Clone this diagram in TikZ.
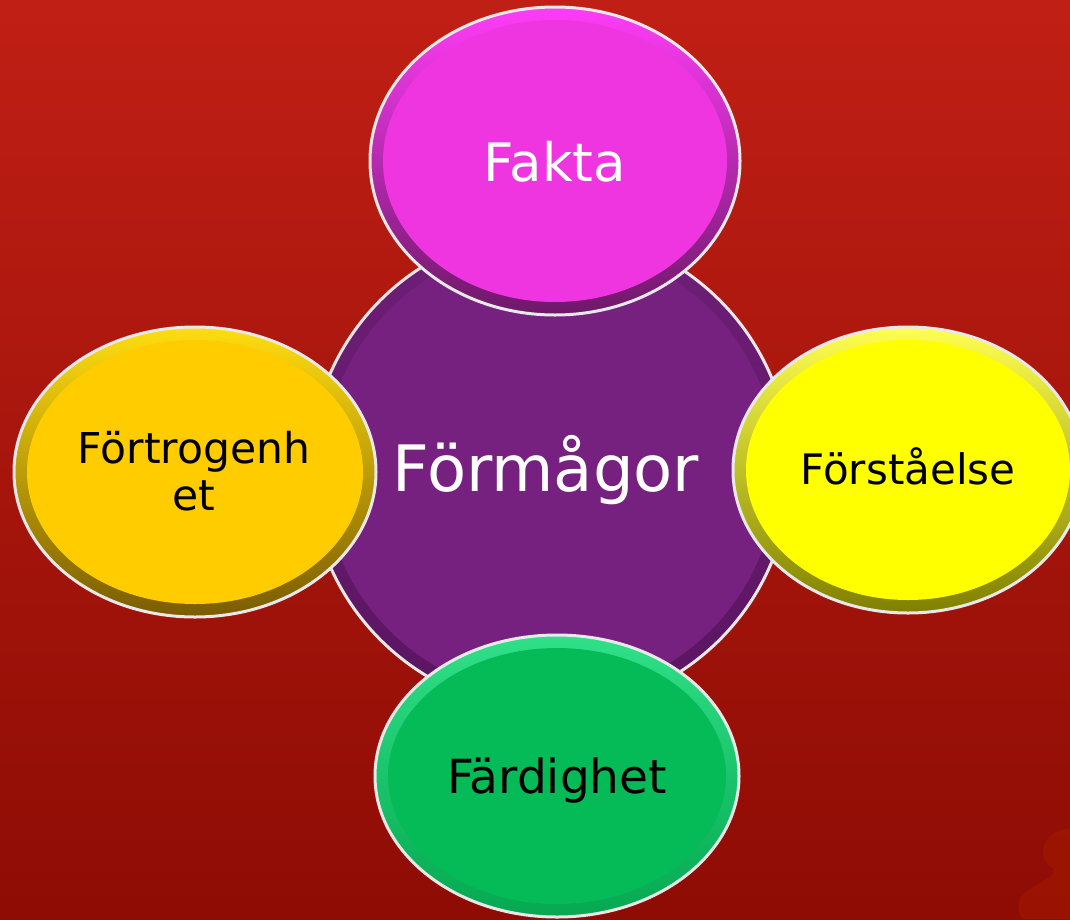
\documentclass[tikz,border=0pt]{standalone}
\usepackage{fontspec}
\setmainfont{DejaVu Sans}

\definecolor{bgtop}{HTML}{C01F15}
\definecolor{bgbot}{HTML}{8E0C04}
\definecolor{blob}{HTML}{A01702}
\definecolor{formagor}{HTML}{76217F}
\definecolor{formagorlight}{HTML}{6E1E78}
\definecolor{formagordark}{HTML}{5A1560}
\definecolor{fakta}{HTML}{EE35E0}
\definecolor{faktalight}{HTML}{FF3CF8}
\definecolor{faktadark}{HTML}{6E1868}
\definecolor{fortrogen}{HTML}{FFCC00}
\definecolor{fortrogenlight}{HTML}{FFDD10}
\definecolor{fortrogendark}{HTML}{7A5C00}
\definecolor{forstaelse}{HTML}{FFFF00}
\definecolor{forstaelselight}{HTML}{FFFF50}
\definecolor{forstaelsedark}{HTML}{808000}
\definecolor{fardighet}{HTML}{05BB58}
\definecolor{fardighetlight}{HTML}{30E088}
\definecolor{fardighetdark}{HTML}{05A850}

\tikzset{
    rim/.style={draw=white!82!gray, line width=3pt},
    word/.style={inner sep=0pt, anchor=base},
}

% ellipse with a bevelled ring: name (also colour), centre, x radius, y radius
\newcommand{\bubble}[4]{
    \def\rx{#3pt}
    \def\ry{#4pt}
    \coordinate (#1) at (#2);
    \shade[shading angle=45, top color=#1light, bottom color=#1dark]
        (#1) ellipse [x radius=\rx, y radius=\ry];
    \fill[#1] (#1) ellipse [x radius=\rx-13pt, y radius=\ry-13pt];
    \draw[rim] (#1) ellipse [x radius=\rx, y radius=\ry];
}

\begin{document}
\begin{tikzpicture}[x=1pt, y=-1pt]
    \useasboundingbox (0,0) rectangle (1070,919);
    \clip (0,0) rectangle (1070,919);
    \shade[top color=bgtop, bottom color=bgbot] (0,0) rectangle (1070,919);
    \fill[blob, opacity=0.7] (1070,828) .. controls (1040,832) and (1036,858) .. (1052,868)
        .. controls (1062,876) and (1030,884) .. (1020,898)
        .. controls (1016,906) and (1020,919) .. (1024,919) -- (1070,919) -- cycle;

    \bubble{formagor}{550,470}{240}{240}
    \bubble{fakta}{555,161}{185}{154}
    \bubble{fortrogen}{195,472}{181}{145}
    \bubble{forstaelse}{908,470}{175}{143}
    \bubble{fardighet}{557,776}{182}{141}

    \node[word, text=white, font=\fontsize{64}{70}\selectfont] (formagortext) at (546,491) {Förmågor};
    \node[word, text=white, font=\fontsize{53}{60}\selectfont] (faktatext) at (555,181) {Fakta};
    \node[inner sep=0pt, align=center, font=\fontsize{42.5}{47}\selectfont] (fortrogentext) at (194,471) {Förtrogenh\\et};
    \node[word, font=\fontsize{42}{48}\selectfont] (forstaelsetext) at (908,484) {Förståelse};
    \node[word, font=\fontsize{47}{54}\selectfont] (fardighettext) at (557,793) {Färdighet};
\end{tikzpicture}
\end{document}
